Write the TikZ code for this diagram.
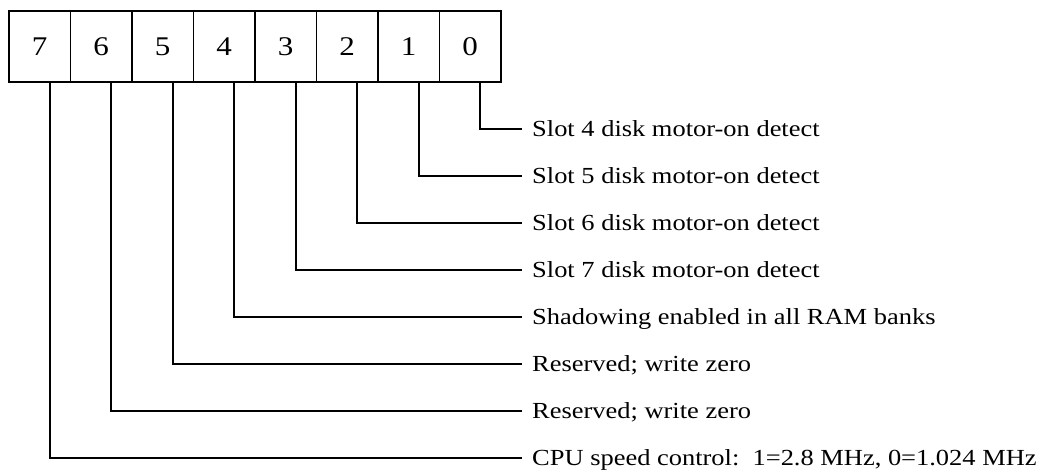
\documentclass[tikz,border=0pt]{standalone}
\usepackage{fontspec}
\setmainfont[FakeStretch=1.15]{Liberation Serif}
\begin{document}
\begin{tikzpicture}[x=1pt,y=-1pt,
  bitbox/.style={draw, line width=1.8pt, minimum width=61.5pt, minimum height=71pt, inner sep=0pt, anchor=north west, font=\fontsize{27}{30}\selectfont},
  lab/.style={anchor=west, inner xsep=10pt, inner ysep=0pt, text height=15pt, text depth=0pt, font=\fontsize{23}{27}\selectfont},
  conn/.style={line width=1.8pt}]
\useasboundingbox (0,0) rectangle (1057,473);
\foreach \b [count=\i from 0] in {7,6,5,4,3,2,1,0}
  \node[bitbox] (b\b) at (8+61.5*\i,10) {\b};
\node[lab] (l0) at (522,129) {Slot 4 disk motor-on detect};
\node[lab] (l1) at (522,176) {Slot 5 disk motor-on detect};
\node[lab] (l2) at (522,223) {Slot 6 disk motor-on detect};
\node[lab] (l3) at (522,270) {Slot 7 disk motor-on detect};
\node[lab] (l4) at (522,317) {Shadowing enabled in all RAM banks};
\node[lab] (l5) at (522,364) {Reserved; write zero};
\node[lab] (l6) at (522,411) {Reserved; write zero};
\node[lab] (l7) at (522,458) {CPU speed control:\ \ 1=2.8 MHz, 0=1.024 MHz};
\foreach \b in {0,...,7}
  \draw[conn] ([xshift=10pt]b\b.south) |- (l\b.west);
\end{tikzpicture}
\end{document}
